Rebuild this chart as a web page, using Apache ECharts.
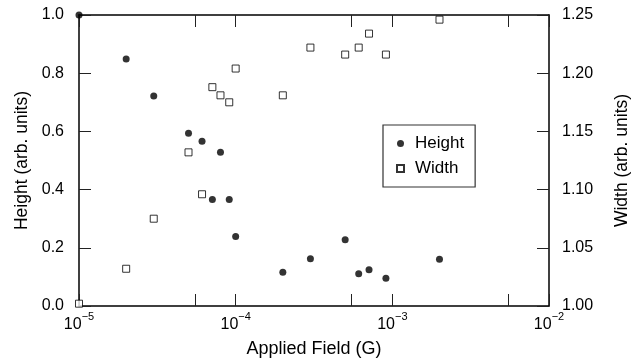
<!DOCTYPE html>
<html>
<head>
<meta charset="utf-8">
<script src="https://cdn.jsdelivr.net/npm/echarts@6/dist/echarts.min.js"></script>
<style>html,body{margin:0;padding:0;background:#fff}#c{width:631px;height:358px}</style>
</head>
<body>
<div id="c"></div>
<script>
const F = "'Liberation Sans',Arial,Helvetica,sans-serif";
const INK = '#000';

// applied field (G), shared by both series
const field = [1e-5, 2e-5, 3e-5, 5e-5, 6.1e-5, 7.1e-5, 8e-5, 9.1e-5, 1e-4, 2e-4, 3e-4, 5e-4, 6.1e-4, 7.1e-4, 9.1e-4, 2e-3];
const height = [1.0, 0.849, 0.722, 0.594, 0.566, 0.366, 0.528, 0.366, 0.239, 0.116, 0.162, 0.228, 0.111, 0.125, 0.095, 0.161];
const width = [1.002, 1.032, 1.075, 1.132, 1.096, 1.188, 1.181, 1.175, 1.204, 1.181, 1.222, 1.216, 1.222, 1.234, 1.216, 1.246];
const xExtent = [1e-5, 1e-2];

const pair = (ys) => field.map((x, i) => [x, ys[i]]);

const tickStyle = { show: true, inside: true, length: 12, lineStyle: { color: '#222', width: 1 } };
const minorStyle = { show: true, splitNumber: 2, length: 12, lineStyle: { color: '#222', width: 1 } };
const lineStyle = { show: true, lineStyle: { color: INK, width: 1.5 } };

const powLabel = (v) => {
  const e = Math.round(Math.log10(v));
  return '{b|10}{s|\u2212' + Math.abs(e) + '}';
};

const chart = echarts.init(document.getElementById('c'));
chart.setOption({
  animation: false,
  textStyle: { fontFamily: F },
  grid: { left: 79, right: 82, top: 15, bottom: 52, outerBoundsMode: 'none', containLabel: false },
  legend: {
    orient: 'vertical', left: 383, top: 125,
    borderColor: '#333', borderWidth: 1.2, padding: [10, 11, 10, 13],
    itemWidth: 7, itemHeight: 7, itemGap: 8,
    textStyle: { fontFamily: F, fontSize: 17, color: INK, padding: [0, 0, 0, 6] },
    data: [{ name: 'Height', icon: 'circle' }, { name: 'Width', icon: 'rect' }]
  },
  xAxis: [
    {
      type: 'log', logBase: 10, min: xExtent[0], max: xExtent[1], position: 'bottom',
      name: 'Applied Field (G)', nameLocation: 'middle', nameGap: 34,
      nameTextStyle: { fontFamily: F, fontSize: 18, color: INK },
      axisLine: lineStyle, axisTick: tickStyle, minorTick: minorStyle,
      splitLine: { show: false }, minorSplitLine: { show: false },
      axisLabel: {
        margin: 5, color: INK, formatter: powLabel,
        rich: {
          b: { fontFamily: F, fontSize: 16, color: INK, lineHeight: 22, verticalAlign: 'bottom' },
          s: { fontFamily: F, fontSize: 11, color: INK, verticalAlign: 'top' }
        }
      }
    },
    {
      type: 'log', logBase: 10, min: xExtent[0], max: xExtent[1], position: 'top',
      axisLine: lineStyle, axisTick: tickStyle, minorTick: minorStyle,
      splitLine: { show: false }, axisLabel: { show: false }
    }
  ],
  yAxis: [
    {
      type: 'value', min: 0, max: 1, interval: 0.2, position: 'left',
      name: 'Height (arb. units)', nameLocation: 'middle', nameRotate: 90, nameGap: 44,
      nameTextStyle: { fontFamily: F, fontSize: 17.5, color: INK },
      axisLine: lineStyle, axisTick: tickStyle, splitLine: { show: false },
      axisLabel: { margin: 15, fontFamily: F, fontSize: 16, color: INK, formatter: (v) => v.toFixed(1) }
    },
    {
      type: 'value', min: 1, max: 1.25, interval: 0.05, position: 'right',
      name: 'Width (arb. units)', nameLocation: 'middle', nameRotate: 90, nameGap: 64,
      nameTextStyle: { fontFamily: F, fontSize: 17.5, color: INK },
      axisLine: lineStyle, axisTick: tickStyle, splitLine: { show: false },
      axisLabel: { margin: 13, fontFamily: F, fontSize: 16, color: INK, formatter: (v) => v.toFixed(2) }
    }
  ],
  series: [
    {
      name: 'Height', type: 'scatter', xAxisIndex: 0, yAxisIndex: 0, clip: false,
      symbol: 'circle', symbolSize: 7, itemStyle: { color: INK },
      data: pair(height)
    },
    {
      name: 'Width', type: 'scatter', xAxisIndex: 0, yAxisIndex: 1, clip: false,
      symbol: 'rect', symbolSize: 7, itemStyle: { color: '#fff', borderColor: INK, borderWidth: 1 },
      data: pair(width)
    }
  ]
});
</script>
</body>
</html>
